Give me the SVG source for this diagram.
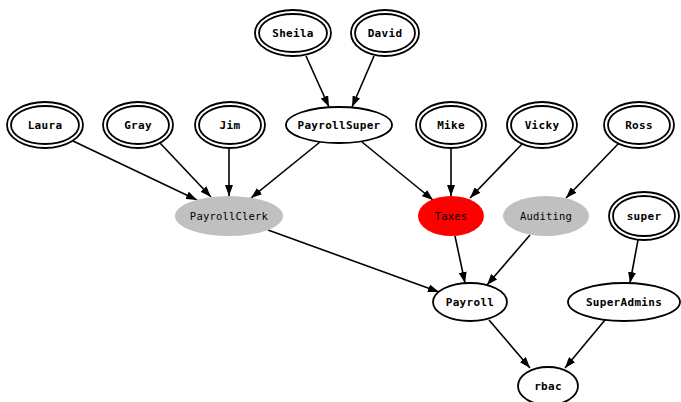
<svg xmlns="http://www.w3.org/2000/svg" width="681" height="402" viewBox="0 0 681 402">
<style>
.o{fill:none;stroke:#000;stroke-width:1.8}
.w{fill:#fff;stroke:#000;stroke-width:1.8}
.t{font-family:"DejaVu Sans Mono","Liberation Mono",monospace;font-size:11px;font-weight:bold;text-anchor:middle;fill:#000;letter-spacing:0.3px}
.r{font-family:"DejaVu Sans Mono","Liberation Mono",monospace;font-size:10.5px;text-anchor:middle;fill:#000;letter-spacing:0.2px}
.e{stroke:#000;stroke-width:1.6;fill:none;marker-end:url(#a)}
</style>
<defs>
<marker id="a" markerUnits="userSpaceOnUse" markerWidth="11" markerHeight="8" refX="11" refY="4" orient="auto">
<path d="M0,0 L11,4 L0,8 z" fill="#000"/>
</marker>
</defs>
<rect width="681" height="402" fill="#fff"/>
<g id="edges">
<line class="e" x1="306" y1="56" x2="329" y2="107"/>
<line class="e" x1="374" y1="56" x2="352" y2="107"/>
<line class="e" x1="73" y1="141" x2="197" y2="200"/>
<line class="e" x1="160" y1="143" x2="211" y2="197"/>
<line class="e" x1="229" y1="148" x2="229" y2="196"/>
<line class="e" x1="320" y1="142" x2="251" y2="198"/>
<line class="e" x1="362" y1="142" x2="433" y2="200"/>
<line class="e" x1="451" y1="148" x2="451" y2="196"/>
<line class="e" x1="523" y1="143" x2="470" y2="198"/>
<line class="e" x1="619" y1="143" x2="566" y2="198"/>
<line class="e" x1="268" y1="230" x2="439" y2="292"/>
<line class="e" x1="455" y1="236" x2="465" y2="283"/>
<line class="e" x1="530" y1="235" x2="487" y2="285"/>
<line class="e" x1="638" y1="240" x2="630" y2="283"/>
<line class="e" x1="489" y1="320" x2="530" y2="368"/>
<line class="e" x1="605" y1="320" x2="565" y2="368"/>
</g>
<g id="Sheila"><ellipse class="o" cx="293" cy="33" rx="38" ry="23"/><ellipse class="o" cx="293" cy="33" rx="34" ry="19"/><text class="t" x="293" y="37">Sheila</text></g>
<g id="David"><ellipse class="o" cx="385" cy="33" rx="34" ry="23"/><ellipse class="o" cx="385" cy="33" rx="30" ry="19"/><text class="t" x="385" y="37">David</text></g>
<g id="Laura"><ellipse class="o" cx="45" cy="125" rx="38" ry="23"/><ellipse class="o" cx="45" cy="125" rx="34" ry="19"/><text class="t" x="45" y="129">Laura</text></g>
<g id="Gray"><ellipse class="o" cx="138" cy="125" rx="35" ry="23"/><ellipse class="o" cx="138" cy="125" rx="31" ry="19"/><text class="t" x="138" y="129">Gray</text></g>
<g id="Jim"><ellipse class="o" cx="230" cy="125" rx="35" ry="23"/><ellipse class="o" cx="230" cy="125" rx="31" ry="19"/><text class="t" x="230" y="129">Jim</text></g>
<g id="PayrollSuper"><ellipse class="w" cx="339" cy="125" rx="53" ry="18"/><text class="t" x="339" y="129">PayrollSuper</text></g>
<g id="Mike"><ellipse class="o" cx="451" cy="125" rx="35" ry="23"/><ellipse class="o" cx="451" cy="125" rx="31" ry="19"/><text class="t" x="451" y="129">Mike</text></g>
<g id="Vicky"><ellipse class="o" cx="542" cy="125" rx="35" ry="23"/><ellipse class="o" cx="542" cy="125" rx="31" ry="19"/><text class="t" x="542" y="129">Vicky</text></g>
<g id="Ross"><ellipse class="o" cx="639" cy="125" rx="35" ry="23"/><ellipse class="o" cx="639" cy="125" rx="31" ry="19"/><text class="t" x="639" y="129">Ross</text></g>
<g id="PayrollClerk"><ellipse cx="229" cy="216" rx="54" ry="20" fill="#c0c0c0"/><text class="r" x="229" y="220">PayrollClerk</text></g>
<g id="Taxes"><ellipse cx="451" cy="216" rx="33" ry="20" fill="#ff0000"/><text class="r" x="451" y="220">Taxes</text></g>
<g id="Auditing"><ellipse cx="546" cy="216" rx="43" ry="20" fill="#c0c0c0"/><text class="r" x="546" y="220">Auditing</text></g>
<g id="super"><ellipse class="o" cx="644" cy="216" rx="35" ry="24"/><ellipse class="o" cx="644" cy="216" rx="31" ry="20"/><text class="t" x="644" y="220">super</text></g>
<g id="Payroll"><ellipse class="w" cx="470" cy="302" rx="37" ry="19"/><text class="t" x="470" y="306">Payroll</text></g>
<g id="SuperAdmins"><ellipse class="w" cx="624" cy="302" rx="56" ry="19"/><text class="t" x="624" y="306">SuperAdmins</text></g>
<g id="rbac"><ellipse class="w" cx="548" cy="386" rx="30" ry="19"/><text class="t" x="548" y="390">rbac</text></g>
</svg>
